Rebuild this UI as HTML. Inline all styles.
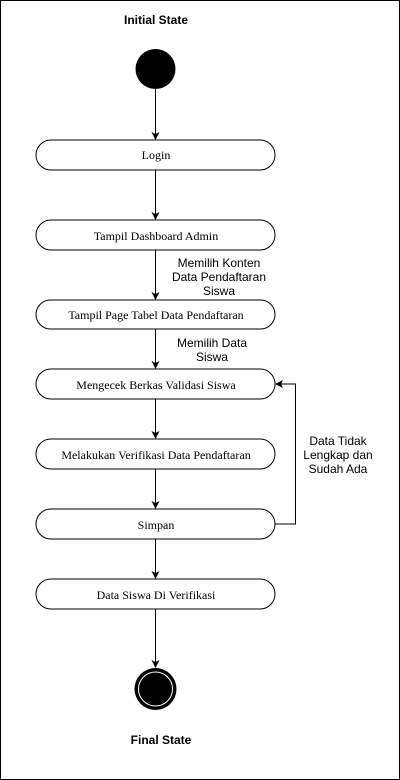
<!DOCTYPE html><html><head><style>html,body{margin:0;background:#fff;overflow:hidden}svg{display:block}</style></head><body>
<svg width="400" height="780" xmlns="http://www.w3.org/2000/svg">
<defs><marker id="a" markerWidth="8" markerHeight="8" refX="7" refY="4" orient="auto" markerUnits="userSpaceOnUse"><path d="M0,0 L8,4 L0,8 L2,4 z" fill="#000"/></marker></defs>
<rect x="0.5" y="0.5" width="399" height="779" fill="#fff" stroke="#000"/>
<g font-family="Liberation Sans, sans-serif" font-weight="bold" font-size="12" text-anchor="middle">
<text x="156" y="24">Initial State</text><text x="161" y="744">Final State</text></g>
<circle cx="155.5" cy="69" r="20" fill="#000"/>
<circle cx="155.5" cy="689" r="21" fill="#000"/>
<circle cx="155.5" cy="689" r="17" fill="none" stroke="#fff" stroke-width="1"/>
<g stroke="#000" fill="none" stroke-width="1">
<line x1="155.5" y1="89" x2="155.5" y2="139" marker-end="url(#a)"/>
<line x1="155.5" y1="170" x2="155.5" y2="219" marker-end="url(#a)"/>
<line x1="155.5" y1="250" x2="155.5" y2="299" marker-end="url(#a)"/>
<line x1="155.5" y1="329" x2="155.5" y2="368" marker-end="url(#a)"/>
<line x1="155.5" y1="399" x2="155.5" y2="438" marker-end="url(#a)"/>
<line x1="155.5" y1="469" x2="155.5" y2="508" marker-end="url(#a)"/>
<line x1="155.5" y1="539" x2="155.5" y2="578" marker-end="url(#a)"/>
<line x1="155.5" y1="609" x2="155.5" y2="667" marker-end="url(#a)"/>
<polyline points="275,524 295.5,524 295.5,384 276,384" marker-end="url(#a)"/>
<rect x="36" y="140" width="239" height="30" rx="15"/>
<rect x="36" y="220" width="239" height="30" rx="15"/>
<rect x="36" y="300" width="239" height="29" rx="14.5"/>
<rect x="36" y="369" width="239" height="30" rx="15"/>
<rect x="36" y="439" width="239" height="30" rx="15"/>
<rect x="36" y="509" width="239" height="30" rx="15"/>
<rect x="36" y="579" width="239" height="30" rx="15"/>
</g>
<g font-family="Liberation Serif, serif" font-size="12" text-anchor="middle">
<text x="156" y="159">Login</text>
<text x="156" y="240">Tampil Dashboard Admin</text>
<text x="156" y="319">Tampil Page Tabel Data Pendaftaran</text>
<text x="156" y="389">Mengecek Berkas Validasi Siswa</text>
<text x="156" y="459">Melakukan Verifikasi Data Pendaftaran</text>
<text x="156" y="529">Simpan</text>
<text x="156" y="599">Data Siswa Di Verifikasi</text>
</g>
<g font-family="Liberation Sans, sans-serif" font-size="12" text-anchor="middle">
<text x="219" y="267">Memilih Konten</text><text x="219" y="281">Data Pendaftaran</text><text x="219" y="295">Siswa</text>
<text x="212" y="347">Memilih Data</text><text x="212" y="361">Siswa</text>
<text x="338" y="445">Data Tidak</text><text x="338" y="459">Lengkap dan</text><text x="338" y="473">Sudah Ada</text>
</g>
</svg></body></html>
